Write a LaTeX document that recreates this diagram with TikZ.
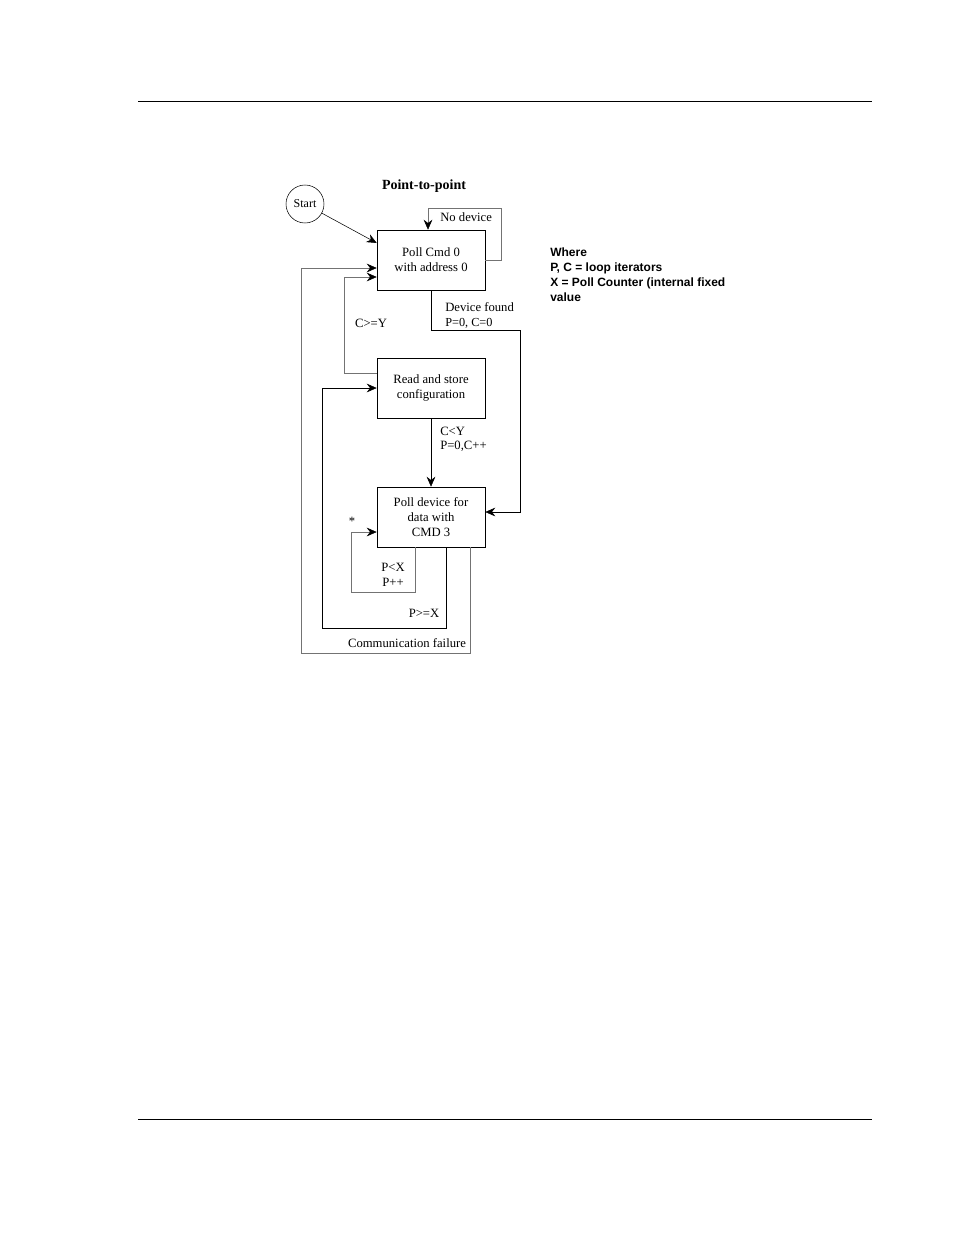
\documentclass[tikz,border=0pt]{standalone}
\usepackage{fontspec}
\setmainfont{Liberation Serif}
\newfontfamily\arialfont{Liberation Sans}
\usetikzlibrary{arrows.meta,positioning}

\tikzset{
  state/.style={draw,minimum width=81pt,minimum height=45pt,inner sep=0pt,align=center,font=\fontsize{9.5}{11.25}\selectfont},
  lbl/.style={font=\fontsize{9.5}{11}\selectfont,inner sep=0pt,align=left},
  back/.style={draw=black!55},
}

\begin{document}
\begin{tikzpicture}[x=0.75pt,y=-0.75pt,>={Stealth[length=7.5pt,width=6.5pt,inset=2.5pt,color=black]}]
\useasboundingbox (0,0) rectangle (954,1235);
\draw[line width=0.6pt] (138,101) -- (872,101);
\draw[line width=0.6pt] (138,1119) -- (872,1119);
\node[draw,circle,minimum size=28.5pt,inner sep=0pt,font=\fontsize{9}{10}\selectfont] (start) at (305,204) {Start};
\node[font=\bfseries\fontsize{10.5}{12}\selectfont] (title) at (424,186) {Point-to-point};
\node[state] (poll0) at (431,260) {Poll Cmd 0\\with address 0};
\node[state] (readcfg) at (431,388) {Read and store\\configuration};
\node[state] (poll3) at (431,517) {Poll device for\\data with\\CMD 3};
% loops back
\draw[back,->] (poll0.east) -- ++(16,0) -- ++(0,-52) -| ([xshift=-2.25pt]poll0.north);
\draw[->] (start) -- ([yshift=12.75pt]poll0.west);
\draw[->] (poll0.south) -- ++(0,40) -- ++(89,0) |- ([yshift=3.75pt]poll3.east);
\draw[back,->] ([yshift=11.25pt]readcfg.west) -- ++(-32,0) |- ([yshift=-12.75pt]poll0.west);
\draw[->] (readcfg) -- (poll3);
\draw[back,->] ([xshift=-12pt]poll3.south) -- ++(0,45) -- ++(-64,0) |- ([yshift=-11.25pt]poll3.west);
\draw[->] ([xshift=11.25pt]poll3.south) -- ++(0,81) -- ++(-124,0) |- (readcfg.west);
\draw[back,->] ([xshift=29.25pt]poll3.south) -- ++(0,106) -- ++(-169,0) |- ([yshift=-6pt]poll0.west);
% labels
\node[lbl,anchor=west] (nodev) at (440,217) {No device};
\node[lbl,anchor=west] (found) at (445,307) {Device found};
\node[lbl,anchor=west,font=\fontsize{9.2}{10}\selectfont] (pc0) at (445,323) {P=0, C=0};
\node[lbl] (cgey) at (371,323) {C>=Y};
\node[lbl,anchor=west] (clty) at (440,431) {C<Y};
\node[lbl,anchor=west] (pcinc) at (440,446) {P=0,C++};
\node[lbl] (star) at (352,521) {*};
\node[lbl] (pltx) at (393,567) {P<X};
\node[lbl] (pinc) at (393,582) {P++};
\node[lbl] (pgex) at (424,613) {P>=X};
\node[lbl] (commfail) at (407,643) {Communication failure};
\node[anchor=north west,inner sep=0pt,align=left,font=\arialfont\bfseries\fontsize{9}{11.25}\selectfont] (where) at (550,248) {Where\\P, C = loop iterators\\X = Poll Counter (internal fixed\\value};
\end{tikzpicture}
\end{document}
